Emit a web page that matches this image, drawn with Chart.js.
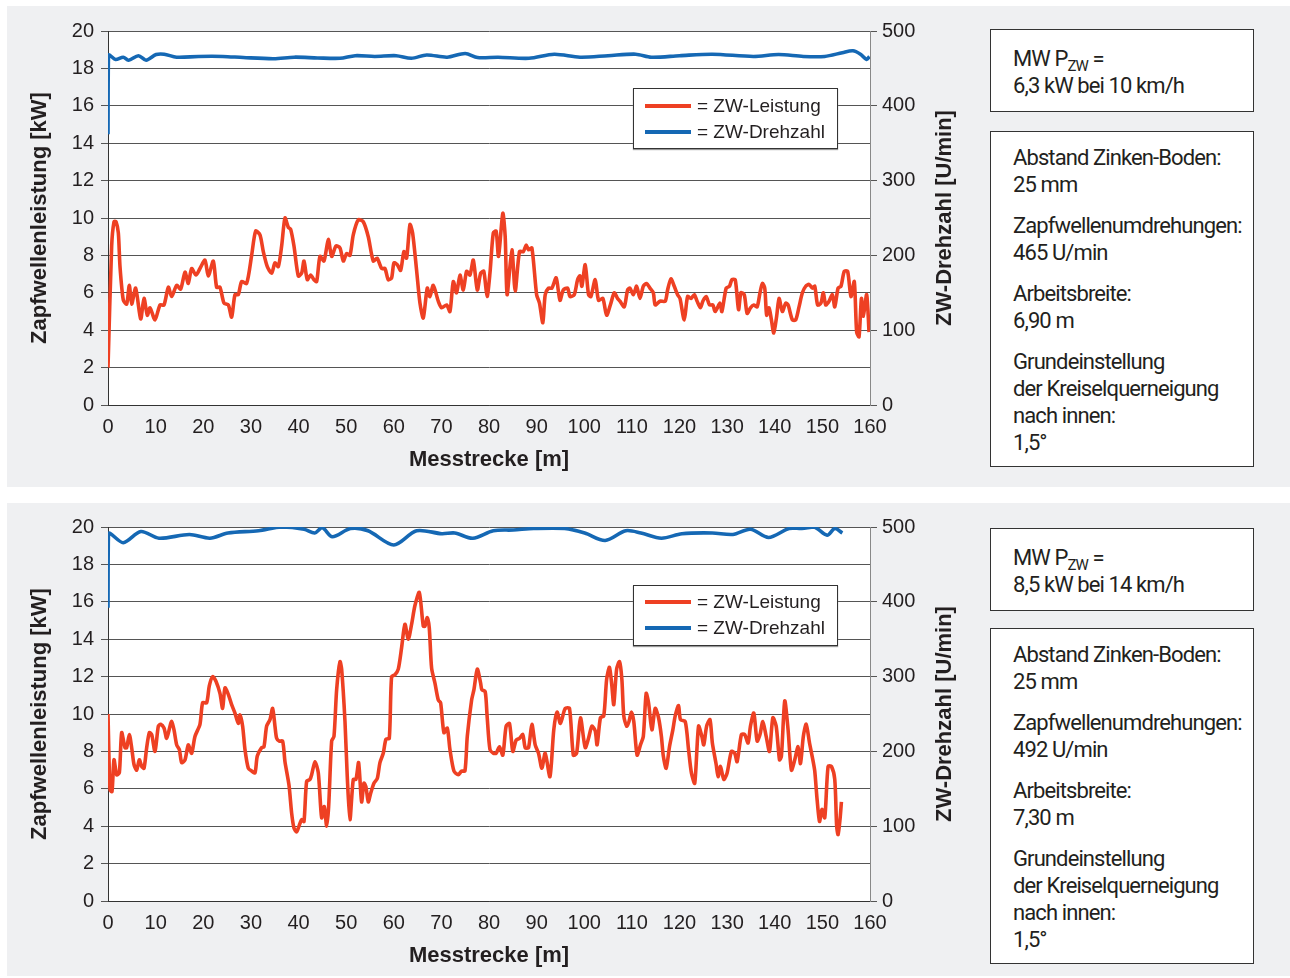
<!DOCTYPE html>
<html>
<head>
<meta charset="utf-8">
<script src="https://cdn.jsdelivr.net/npm/chart.js@4/dist/chart.umd.min.js"></script>
<style>
  html, body { margin: 0; padding: 0; background: #ffffff; }
  body { width: 1290px; height: 978px; position: relative; overflow: hidden;
         font-family: "Liberation Sans", Arial, sans-serif; color: #231f20; }
  .panel { position: absolute; left: 7px; width: 1283px; background: #eff0f2; }
  .cv { position: absolute; left: 0; }
  .legend { position: absolute; left: 633px; width: 203px; height: 59px; background: #fff;
            border: 1px solid #333; box-shadow: 0 1px 1px #999; }
  .legend .row { position: absolute; left: 11px; height: 24px; font-size: 19px; line-height: 24px; white-space: nowrap; }
  .legend .sw { display: inline-block; width: 46px; height: 4px; vertical-align: middle; margin-right: 6px; position: relative; top: -1px; }
  .box { position: absolute; left: 990px; width: 264px; background: #fff; border: 1px solid #333;
         font-family: Roboto, "Liberation Sans", Arial, sans-serif; letter-spacing: -0.9px;
         font-size: 22px; line-height: 27px; color: #231f20; box-sizing: border-box; padding-left: 22px;
         white-space: nowrap; }
  .box p { margin: 0 0 14px 0; }
  .box sub { font-size: 15px; vertical-align: -5px; line-height: 0; }
</style>
</head>
<body>
<div class="panel" style="top:6px;height:481px;"></div>
<div class="panel" style="top:503px;height:473px;"></div>

<canvas id="c1" class="cv" width="980" height="482" style="top:0px;"></canvas>
<canvas id="c2" class="cv" width="980" height="482" style="top:496px;"></canvas>

<div class="legend" style="top:88px;">
  <div class="row" style="top:5px;"><span class="sw" style="background:#ee4023"></span>= ZW-Leistung</div>
  <div class="row" style="top:31px;"><span class="sw" style="background:#1568b4"></span>= ZW-Drehzahl</div>
</div>
<div class="legend" style="top:585px;">
  <div class="row" style="top:4px;"><span class="sw" style="background:#ee4023"></span>= ZW-Leistung</div>
  <div class="row" style="top:30px;"><span class="sw" style="background:#1568b4"></span>= ZW-Drehzahl</div>
</div>

<div class="box" style="top:29px;height:83px;padding-top:15px;">MW P<sub>ZW</sub> =<br>6,3 kW bei 10 km/h</div>
<div class="box" style="top:131px;height:336px;padding-top:12px;">
  <p>Abstand Zinken-Boden:<br>25 mm</p>
  <p>Zapfwellenumdrehungen:<br>465 U/min</p>
  <p>Arbeitsbreite:<br>6,90 m</p>
  <p>Grundeinstellung<br>der Kreiselquerneigung<br>nach innen:<br>1,5°</p>
</div>

<div class="box" style="top:528px;height:83px;padding-top:15px;">MW P<sub>ZW</sub> =<br>8,5 kW bei 14 km/h</div>
<div class="box" style="top:628px;height:336px;padding-top:12px;">
  <p>Abstand Zinken-Boden:<br>25 mm</p>
  <p>Zapfwellenumdrehungen:<br>492 U/min</p>
  <p>Arbeitsbreite:<br>7,30 m</p>
  <p>Grundeinstellung<br>der Kreiselquerneigung<br>nach innen:<br>1,5°</p>
</div>

<script>
// ---------- DATA ----------
const xTickLabels = [0,10,20,30,40,50,60,70,80,90,100,110,120,130,140,150,160];
const leftTicks = [0,2,4,6,8,10,12,14,16,18,20];
const rightTicks = [0,100,200,300,400,500];
const xTitle = "Messtrecke [m]";
const leftTitle = "Zapfwellenleistung [kW]";
const rightTitle = "ZW-Drehzahl [U/min]";
const seriesNames = ["ZW-Leistung", "ZW-Drehzahl"];

// Top chart: power (kW) over distance (m)
const topPowerDist = [0,0.77,1.26,1.68,2.17,2.52,3.22,3.92,4.48,4.97,5.81,6.86,7.56,8.26,8.82,9.87,10.92,11.76,12.67,13.37,14.42,15.26,16.17,16.86,17.56,18.47,19.31,20.36,21.06,22.11,22.81,23.51,24.35,25.26,25.96,26.66,27.36,28.06,29.11,30.16,31.0,31.91,32.61,33.45,34.36,35.06,35.76,36.46,37.16,37.86,38.35,39.05,39.96,40.66,41.15,41.85,42.55,43.25,43.81,44.51,45.35,46.26,46.96,47.87,48.71,49.41,50.1,50.8,51.5,52.55,53.6,54.65,55.7,56.5,57.45,58.15,58.85,59.55,60.04,60.74,61.44,62.14,62.7,63.4,63.96,64.8,65.5,66.2,67.04,67.6,68.3,69.35,70.05,71.1,71.8,72.5,73.2,73.9,74.6,75.3,76.0,76.7,77.55,78.25,78.9,79.6,80.2,80.9,81.5,82.0,82.9,83.4,83.8,84.8,85.5,86.4,87.2,87.8,88.3,89.0,90.0,90.6,91.3,91.8,92.5,93.2,94.1,94.9,95.6,96.5,97.0,97.9,98.6,99.1,99.5,100.2,100.9,101.4,102.3,103.0,103.9,104.7,105.6,106.3,107.0,107.5,108.4,109.1,109.6,110.3,111.0,111.7,112.4,113.1,113.8,114.5,114.9,115.9,117.0,117.5,118.2,118.9,119.6,120.1,121.0,121.7,122.4,123.1,123.7,124.4,124.9,125.6,126.3,127.0,127.5,128.5,128.9,129.8,130.5,131.0,131.7,132.4,132.9,133.6,134.2,134.9,135.6,136.3,136.9,137.4,137.9,138.3,138.8,139.3,139.8,140.4,140.9,141.6,142.3,142.8,143.7,144.4,145.1,145.8,146.5,147.2,147.9,148.4,149.0,149.7,150.2,150.7,151.4,152.1,152.6,153.3,153.9,154.6,155.3,156.0,156.7,157.2,157.7,158.2,158.6,159.3,159.8];
const topPower = [2.0,8.5,9.8,9.8,9.2,7.4,5.6,5.4,6.4,5.4,6.25,4.6,5.7,4.8,5.2,4.55,5.35,5.35,6.3,5.8,6.4,6.2,7.1,6.5,7.3,6.95,7.3,7.75,6.9,7.7,6.3,6.3,5.45,5.35,4.7,5.9,5.9,6.6,6.5,8.0,9.3,9.1,8.2,7.4,7.05,7.6,7.4,8.5,10.0,9.5,9.4,8.5,6.9,7.05,7.7,6.7,6.95,6.7,6.6,7.95,7.7,8.85,7.95,8.5,8.4,7.7,8.1,8.0,9.1,9.9,9.8,9.0,7.7,7.85,7.3,7.3,6.7,6.8,7.6,7.5,7.2,8.2,7.85,9.65,9.2,7.2,5.45,4.65,6.25,5.8,6.4,5.55,5.2,5.35,5.0,6.6,6.0,6.95,6.15,7.15,6.95,7.75,6.15,7.05,7.15,5.8,7.05,9.2,9.3,7.95,10.25,9.0,5.9,8.3,6.1,8.2,8.2,8.55,8.3,8.4,5.9,5.45,4.4,5.9,6.25,6.25,6.8,5.6,6.15,6.25,5.8,5.9,6.7,6.9,6.35,7.5,5.9,5.8,6.7,5.6,5.7,4.8,5.45,6.0,5.7,5.55,5.25,6.15,6.25,5.9,6.35,5.7,6.35,6.5,6.25,6.0,5.35,5.55,5.55,6.15,6.75,6.35,5.9,5.7,4.55,5.8,5.7,5.9,5.55,5.2,5.55,5.8,5.35,5.35,5.0,5.45,5.0,6.25,6.35,6.7,6.7,5.1,6.0,5.9,4.9,5.2,5.35,5.25,6.0,6.5,6.25,4.8,5.2,4.55,3.85,4.75,5.7,5.0,5.45,5.35,4.55,4.55,5.25,6.0,6.35,6.45,6.25,6.35,5.35,5.45,6.0,5.35,5.55,5.9,5.25,6.25,6.35,7.15,7.15,5.8,6.6,3.9,3.65,5.7,4.75,5.9,3.9];

// Top chart: PTO speed (U/min) over distance (m)
const topRpmDist = [0,0.1,0.5,1.6,3.2,4.3,6.4,8.0,10.1,11.8,14.4,19.0,24.1,28.4,34.8,39.1,44.0,48.7,51.9,56.0,60.5,63.7,66.9,71.2,75.0,77.6,81.9,88.4,93.7,99.1,105.0,110.8,114.1,120.0,126.9,135.5,140.8,146.0,150.5,154.2,156.4,158.0,159.3,159.9];
const topRpm = [362,468,467,462,465,461,467,461,468.5,469,465,466,466,464.5,463,465,464,463.5,467,466,467,463.5,468,465,470,464.5,465,463.5,469,465,467,469,465,467,469,466,468.5,466,466,471,473.5,469,462,466];

// Bottom chart: power (kW) over distance (m)
const botPowerDist = [0,0.42,0.84,1.26,1.82,2.38,2.87,3.57,3.92,4.48,4.97,5.46,6.02,6.58,7.07,7.56,8.12,8.68,9.17,9.87,10.57,11.06,11.76,12.32,13.02,13.37,13.86,14.42,14.98,15.47,16.17,16.86,17.56,18.26,19.31,19.87,20.71,21.27,21.97,22.67,23.51,24.07,24.56,25.26,25.96,26.66,27.36,27.71,28.27,28.76,29.46,30.16,30.86,31.35,32.26,32.75,33.31,34.01,34.57,35.06,35.41,35.97,36.67,37.16,38.0,38.56,39.05,39.61,40.31,40.66,41.15,41.71,42.41,42.76,43.46,44.16,44.86,45.42,45.91,46.33,46.96,47.45,48.01,48.71,49.06,49.76,50.24,50.8,51.5,52.06,52.62,53.25,53.74,54.16,54.65,55.14,55.84,56.54,57.1,57.8,58.36,59.06,59.55,60.25,60.95,61.65,62.35,63.05,63.75,64.45,65.36,66.2,66.55,67.04,67.46,67.95,68.65,69.35,69.84,70.54,71.24,71.8,72.64,73.55,74.25,74.95,75.44,76.35,76.84,77.54,78.24,78.5,79.2,79.6,80.2,80.9,81.5,82.2,82.9,83.6,84.3,85.0,85.7,86.4,87.1,87.6,88.3,89.0,89.7,90.4,91.1,91.8,92.8,93.6,94.3,95.0,96.0,96.9,97.7,98.4,99.2,100.2,100.9,101.6,102.3,102.7,103.4,104.1,104.7,105.3,105.8,106.2,106.8,107.4,107.9,108.3,108.9,109.4,109.9,110.4,111.1,111.8,112.4,113.0,113.5,114.2,114.9,115.6,116.2,116.6,117.2,117.9,118.6,119.1,119.8,120.2,121.2,121.9,122.5,123.2,124.0,124.7,125.1,125.7,126.4,126.9,127.7,128.1,128.6,129.3,130.0,130.9,131.6,132.1,133.0,133.7,134.4,134.9,135.6,136.3,136.9,137.5,138.2,138.9,139.6,140.3,141.0,141.4,142.1,142.8,143.5,144.2,144.9,145.4,146.0,146.6,147.3,148.0,148.4,148.9,149.4,149.9,150.5,151.2,151.9,152.6,153.0,153.3,153.7,154.0];
const botPower = [10.0,5.95,5.85,7.55,6.75,6.85,9.0,8.2,8.2,8.9,8.2,7.3,7.0,7.55,7.2,7.1,8.2,9.0,8.9,8.0,9.35,9.45,9.25,8.7,9.35,9.6,9.15,8.35,8.1,7.4,7.55,8.35,7.9,8.8,9.45,10.6,10.6,11.5,12.0,11.75,11.1,10.3,11.4,11.05,10.5,10.05,9.5,9.95,9.35,8.1,7.1,6.95,6.85,7.75,8.2,8.25,9.35,9.7,10.3,9.35,8.7,8.55,8.55,7.45,6.2,4.7,3.9,3.7,4.15,4.35,4.25,6.4,6.5,6.75,7.45,6.85,4.45,5.05,4.0,5.05,8.55,8.8,11.3,12.8,12.4,9.6,6.65,4.35,6.5,6.5,7.4,5.3,6.3,6.1,5.3,5.75,6.3,6.55,7.4,7.9,8.65,8.7,12.0,12.1,12.4,13.55,14.8,14.0,14.8,15.8,16.5,14.7,14.7,15.15,14.6,12.45,11.65,10.75,10.6,9.0,9.25,8.1,6.95,6.75,6.95,6.95,8.8,10.75,11.3,12.4,11.65,11.3,11.2,9.9,8.1,7.9,7.9,8.25,7.8,9.35,9.5,8.0,8.6,8.7,8.9,8.2,8.2,9.45,8.35,7.9,7.1,7.9,6.65,9.15,10.1,9.5,10.3,10.3,7.8,7.9,9.8,8.2,8.7,9.35,9.1,8.35,9.8,9.9,11.85,12.5,11.5,10.5,12.4,12.8,11.85,9.9,9.35,9.6,10.1,9.6,7.8,8.35,8.8,11.1,10.6,9.15,10.3,9.8,8.8,7.75,7.1,8.25,9.15,9.9,10.45,9.7,9.6,8.1,6.85,6.3,9.35,8.8,8.35,9.35,9.7,8.45,7.3,6.65,7.2,6.5,6.85,8.0,7.9,7.45,8.9,8.9,8.45,9.35,10.05,8.55,8.9,9.6,8.8,8.0,9.8,9.35,7.55,7.75,10.7,9.15,7.0,7.55,8.25,7.35,8.8,9.45,8.45,7.55,6.95,5.4,4.25,4.9,4.45,7.2,7.2,6.5,4.0,3.55,4.35,5.3];

// Bottom chart: PTO speed (U/min) over distance (m)
const botRpmDist = [0,0.1,3.2,6.9,10.7,17.1,21.4,25.2,31.6,36.4,41.2,43.4,45.0,47.1,50.9,54.6,60.0,64.8,70.1,72.8,76.6,80.9,85.1,89.4,95.9,100.1,104.4,108.7,111.9,116.2,120.5,126.9,131.2,134.9,138.7,143.0,145.7,148.3,151.0,152.6,154.2];
const botRpm = [392,491,479,494,485,490,485,492,495,500,497,492,499,487,498,495,476,495,491,492,485,495,496,498,498,492,482,495,492,485,491,492,490,497,486,498,498,500,489,498,492];

// ---------- CHARTS ----------
const RED = '#ee4023', BLUE = '#1568b4', TXT = '#231f20';
const FAM = '"Liberation Sans", Arial, sans-serif';

function pts(xs, ys) { return xs.map((x, i) => ({ x: x, y: ys[i] })); }

const rightTitlePlugin = {
  id: 'rightTitle',
  afterDraw(chart) {
    const ctx = chart.ctx, a = chart.chartArea;
    ctx.save();
    ctx.translate(945, (a.top + a.bottom) / 2);
    ctx.rotate(-Math.PI / 2);
    ctx.font = 'bold 22px ' + FAM;
    ctx.fillStyle = TXT;
    ctx.textAlign = 'center';
    ctx.textBaseline = 'middle';
    ctx.fillText(rightTitle, 0, 0);
    ctx.restore();
  }
};

function makeChart(id, powDist, pow, rpmDist, rpm) {
  return new Chart(document.getElementById(id), {
    type: 'line',
    data: {
      datasets: [
        { label: seriesNames[0], data: pts(powDist, pow), yAxisID: 'y', borderColor: RED,
          borderWidth: 3.6, pointRadius: 0, tension: 0.25, fill: false },
        { label: seriesNames[1], data: pts(rpmDist, rpm), yAxisID: 'y2', borderColor: BLUE,
          borderWidth: 3.6, pointRadius: 0, tension: 0.3, fill: false }
      ]
    },
    options: {
      responsive: false,
      animation: false,
      events: [],
      layout: { padding: { top: 31, left: 0, right: 0, bottom: 0 } },
      plugins: { legend: { display: false }, tooltip: { enabled: false } },
      scales: {
        x: {
          type: 'linear', min: 0, max: 160,
          afterBuildTicks: s => { s.ticks = xTickLabels.map(v => ({ value: v })); },
          ticks: { font: { size: 20, family: FAM }, color: TXT, padding: 10, maxRotation: 0, autoSkip: false },
          grid: { display: false, drawTicks: false },
          border: { display: true, color: '#333', width: 1 },
          title: { display: true, text: xTitle, color: TXT, font: { size: 22, weight: 'bold', family: FAM }, padding: { top: 0, bottom: 9 } },
          afterFit: s => { s.height = 77; }
        },
        y: {
          position: 'left', min: 0, max: 20,
          afterBuildTicks: s => { s.ticks = leftTicks.map(v => ({ value: v })); },
          ticks: { font: { size: 20, family: FAM }, color: TXT, padding: 7 },
          grid: { color: '#555', lineWidth: 1, tickLength: 7 },
          border: { color: '#333', width: 1 },
          title: { display: true, text: leftTitle, color: TXT, font: { size: 22, weight: 'bold', family: FAM }, padding: { top: 27, bottom: 0 } },
          afterFit: s => { s.width = 108; }
        },
        y2: {
          position: 'right', min: 0, max: 500,
          afterBuildTicks: s => { s.ticks = rightTicks.map(v => ({ value: v })); },
          ticks: { font: { size: 20, family: FAM }, color: TXT, padding: 5 },
          grid: { drawOnChartArea: false, color: '#555', tickLength: 7 },
          border: { color: '#888', width: 1 },
          afterFit: s => { s.width = 110; }
        }
      }
    },
    plugins: [{
      id: 'whiteArea',
      beforeDraw(chart) {
        const a = chart.chartArea, ctx = chart.ctx;
        ctx.save(); ctx.fillStyle = '#ffffff';
        ctx.fillRect(a.left, a.top, a.right - a.left, a.bottom - a.top);
        ctx.restore();
      }
    }, rightTitlePlugin]
  });
}

makeChart('c1', topPowerDist, topPower, topRpmDist, topRpm);
makeChart('c2', botPowerDist, botPower, botRpmDist, botRpm);
</script>
</body>
</html>
